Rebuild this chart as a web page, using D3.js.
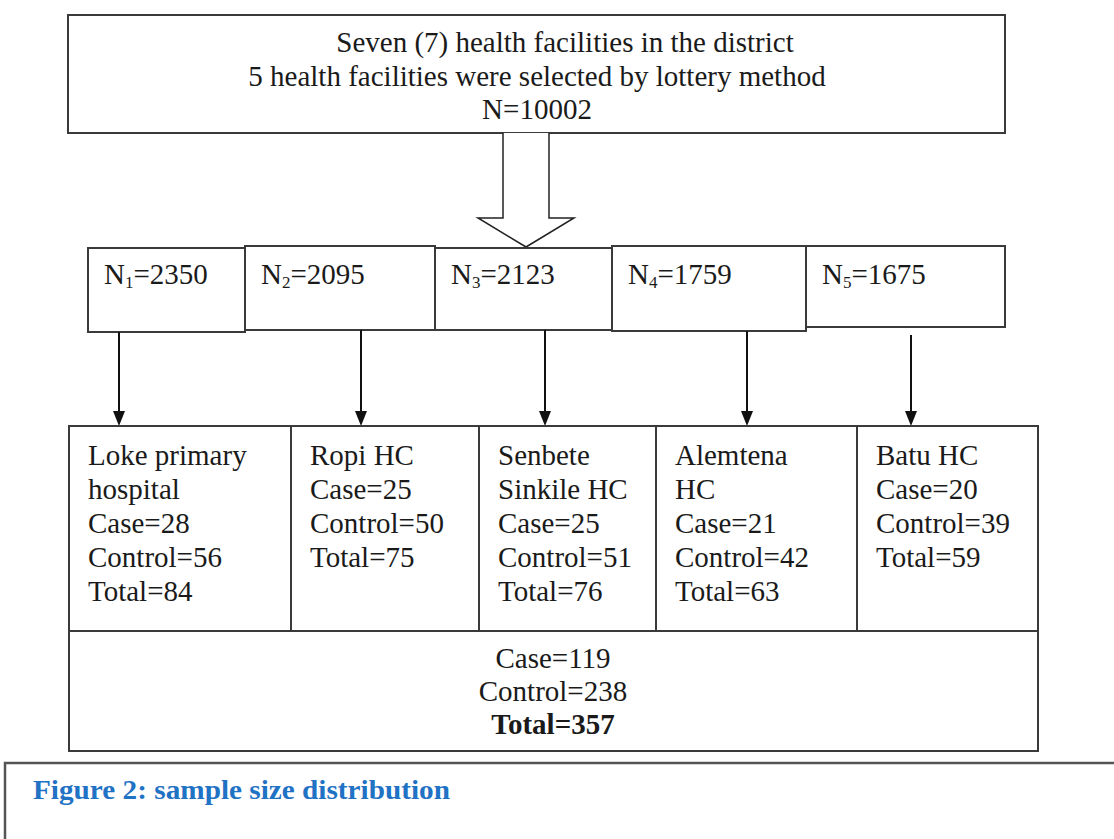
<!DOCTYPE html>
<html>
<head>
<meta charset="utf-8">
<script src="https://cdn.jsdelivr.net/npm/d3@7"></script>
<style>
  body { margin: 0; background: #fff; }
  text { font-family: "Liberation Serif", "Times New Roman", serif; fill: #1a1a1a; }
</style>
</head>
<body>
<div id="chart"></div>
<script>
// data
const topLines = ["Seven (7) health facilities in the district",
                  "5 health facilities were selected by lottery method",
                  "N=10002"];
const nIndex = ["1", "2", "3", "4", "5"];
const nValues = [2350, 2095, 2123, 1759, 1675];
const facilityNames = [["Loke primary", "hospital"], ["Ropi HC"], ["Senbete", "Sinkile HC"], ["Alemtena", "HC"], ["Batu HC"]];
const cases = [28, 25, 25, 21, 20];
const controls = [56, 50, 51, 42, 39];
const totals = [84, 75, 76, 63, 59];
const caption = "Figure 2: sample size distribution";

// layout
const width = 1114, height = 839;
const stroke = "#3a3a3a";
const fontSize = "29px";
const nEdges = [88, 245, 435, 612, 806, 1005];
const nTop = [248, 246, 248, 246, 246];
const nBot = [332, 330, 330, 331, 327];
const fEdges = [69, 291, 479, 656, 857, 1038];
const arrowX = [119, 361, 545, 747, 911];
const fTop = 426, fBot = 631, sumBot = 751;
const lineH = 34;

const svg = d3.select("#chart").append("svg")
  .attr("width", width)
  .attr("height", height);

// top box
svg.append("rect")
  .attr("x", 68).attr("y", 15).attr("width", 937).attr("height", 118)
  .attr("fill", "none").attr("stroke", stroke).attr("stroke-width", 2);

svg.selectAll(".top-line")
  .data(topLines)
  .enter().append("text")
  .attr("class", "top-line")
  .attr("x", (d, i) => i === 0 ? 565 : 537)
  .attr("y", (d, i) => 52 + i * 33.5)
  .attr("text-anchor", "middle")
  .attr("font-size", fontSize)
  .text(d => d);

// hollow block arrow
svg.append("path")
  .attr("d", "M503,133 L503,218 L478,218 L526,247 L574,218 L549,218 L549,133")
  .attr("fill", "#fff").attr("stroke", "#222").attr("stroke-width", 1.5);

// N boxes
const nGroup = svg.selectAll(".nbox")
  .data(nValues)
  .enter().append("g").attr("class", "nbox");

nGroup.append("rect")
  .attr("x", (d, i) => nEdges[i])
  .attr("y", (d, i) => nTop[i])
  .attr("width", (d, i) => nEdges[i + 1] - nEdges[i])
  .attr("height", (d, i) => nBot[i] - nTop[i])
  .attr("fill", "none").attr("stroke", stroke).attr("stroke-width", 2);

const nText = nGroup.append("text")
  .attr("x", (d, i) => nEdges[i] + 16)
  .attr("y", 284)
  .attr("font-size", fontSize);
nText.append("tspan").text("N");
nText.append("tspan").attr("font-size", "17px").attr("dy", 4).text((d, i) => nIndex[i]);
nText.append("tspan").attr("dy", -4).text(d => "=" + d);

// arrows down to facility boxes
svg.selectAll(".down")
  .data(arrowX)
  .enter().append("line")
  .attr("class", "down")
  .attr("x1", d => d).attr("x2", d => d)
  .attr("y1", (d, i) => i === 4 ? 335 : nBot[i])
  .attr("y2", fTop - 6)
  .attr("stroke", "#111").attr("stroke-width", 2);

svg.selectAll(".tip")
  .data(arrowX)
  .enter().append("path")
  .attr("class", "tip")
  .attr("d", d => `M${d - 6},${fTop - 15} L${d + 6},${fTop - 15} L${d},${fTop} Z`)
  .attr("fill", "#111");

// facility boxes
const fGroup = svg.selectAll(".fbox")
  .data(facilityNames)
  .enter().append("g").attr("class", "fbox");

fGroup.append("rect")
  .attr("x", (d, i) => fEdges[i])
  .attr("y", fTop)
  .attr("width", (d, i) => fEdges[i + 1] - fEdges[i])
  .attr("height", fBot - fTop)
  .attr("fill", "none").attr("stroke", stroke).attr("stroke-width", 2);

fGroup.each(function (d, i) {
  const lines = d.concat(["Case=" + cases[i], "Control=" + controls[i], "Total=" + totals[i]]);
  d3.select(this).selectAll("text")
    .data(lines)
    .enter().append("text")
    .attr("x", fEdges[i] + 19)
    .attr("y", (t, j) => 465 + j * lineH)
    .attr("font-size", fontSize)
    .text(t => t);
});

// summary box
svg.append("rect")
  .attr("x", fEdges[0]).attr("y", fBot)
  .attr("width", fEdges[5] - fEdges[0]).attr("height", sumBot - fBot)
  .attr("fill", "none").attr("stroke", stroke).attr("stroke-width", 2);

const sumLines = [
  { t: "Case=" + d3.sum(cases), bold: false },
  { t: "Control=" + d3.sum(controls), bold: false },
  { t: "Total=" + d3.sum(totals), bold: true }
];
svg.selectAll(".sum")
  .data(sumLines)
  .enter().append("text")
  .attr("class", "sum")
  .attr("x", 553)
  .attr("y", (d, i) => 668 + i * 33)
  .attr("text-anchor", "middle")
  .attr("font-size", fontSize)
  .attr("font-weight", d => d.bold ? "bold" : "normal")
  .text(d => d.t);

// caption box
svg.append("rect")
  .attr("x", 5).attr("y", 763).attr("width", 1120).attr("height", 90)
  .attr("fill", "none").attr("stroke", "#555").attr("stroke-width", 2.5);

svg.append("text")
  .attr("x", 33).attr("y", 799)
  .attr("font-size", "28px")
  .attr("font-weight", "bold")
  .attr("textLength", 417)
  .attr("lengthAdjust", "spacingAndGlyphs")
  .style("fill", "#1f72c4")
  .text(caption);
</script>
</body>
</html>
